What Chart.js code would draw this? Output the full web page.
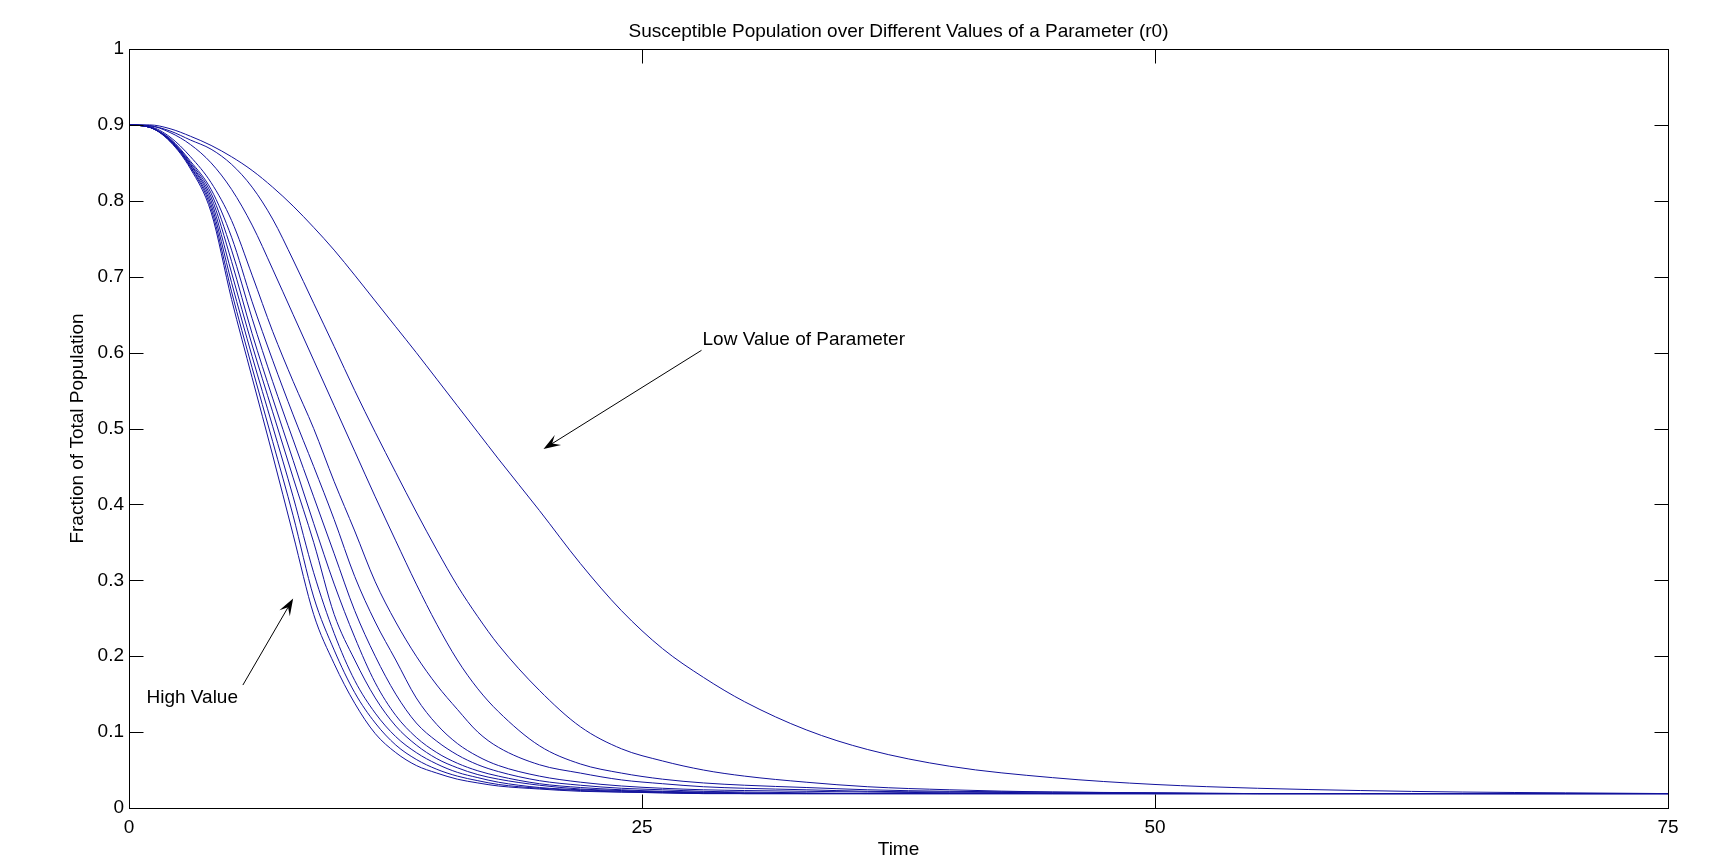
<!DOCTYPE html>
<html>
<head>
<meta charset="utf-8">
<title>Susceptible Population</title>
<script src="https://cdn.jsdelivr.net/npm/chart.js@4/dist/chart.umd.min.js"></script>
<style>
  html, body { margin: 0; padding: 0; background: #fff; }
</style>
</head>
<body>
<canvas id="sirChart" width="1709" height="858"></canvas>
<script>
// time grid (days) shared by all runs
var time = [0, 1, 2, 3, 4, 5, 6, 7, 8, 9, 10, 11, 12, 13, 14, 15, 16, 17, 18,
  20, 22, 24, 26, 28, 30, 33, 36, 40, 45, 50, 55, 60, 65, 70, 75];

// susceptible fraction, lowest parameter value first
var s1 = [.9, .9, .895, .885, .873, .858, .84, .818, .793, .765, .735, .702, .668, .634, .60, .565, .53, .495, .46,
  .392, .322, .26, .21, .172, .14, .103, .077, .055, .04, .031, .026, .023, .021, .02, .019];
var s2 = [.9, .899, .892, .88, .868, .848, .818, .776, .722, .665, .608, .55, .495, .442, .39, .34, .293, .252, .215,
  .155, .107, .078, .062, .05, .042, .034, .028, .024, .021, .02, .019, .019, .019, .019, .019];
var s3 = [.9, .899, .89, .874, .85, .815, .768, .71, .65, .59, .53, .47, .41, .352, .295, .242, .195, .157, .127,
  .082, .058, .046, .038, .033, .03, .027, .024, .022, .021, .02, .019, .019, .019, .019, .019];
var s4 = [.9, .898, .884, .858, .824, .774, .702, .628, .562, .50, .43, .365, .298, .245, .20, .162, .13, .10, .08,
  .057, .046, .037, .032, .028, .026, .024, .022, .021, .02, .019, .019, .019, .019, .019, .019];
var s5 = [.9, .897, .882, .852, .815, .752, .667, .59, .518, .45, .38, .305, .245, .195, .145, .11, .085, .068, .056,
  .042, .034, .029, .026, .024, .023, .022, .021, .02, .019, .019, .019, .019, .019, .019, .019];
var s6 = [.9, .897, .881, .85, .81, .735, .645, .562, .485, .41, .335, .26, .20, .15, .112, .088, .07, .057, .048,
  .036, .03, .026, .024, .022, .021, .02, .019, .019, .019, .019, .019, .019, .019, .019, .019];
var s7 = [.9, .897, .88, .848, .805, .72, .625, .54, .458, .375, .295, .225, .165, .122, .093, .073, .059, .049, .042,
  .032, .027, .024, .022, .021, .02, .019, .019, .019, .019, .019, .019, .019, .019, .019, .019];
var s8 = [.9, .897, .88, .847, .80, .705, .61, .522, .435, .35, .255, .195, .145, .108, .083, .065, .053, .044, .038,
  .03, .025, .023, .021, .02, .019, .019, .019, .019, .019, .019, .019, .019, .019, .019, .019];
var s9 = [.9, .897, .879, .845, .795, .692, .595, .503, .41, .31, .23, .168, .125, .094, .073, .058, .047, .04, .034,
  .027, .024, .022, .021, .02, .019, .019, .019, .019, .019, .019, .019, .019, .019, .019, .019];
var s10 = [.9, .897, .879, .844, .79, .68, .58, .483, .385, .278, .208, .152, .112, .083, .064, .051, .042, .036, .031,
  .026, .023, .021, .02, .019, .019, .019, .019, .019, .019, .019, .019, .019, .019, .019, .019];
var s11 = [.9, .897, .878, .842, .785, .67, .567, .465, .36, .255, .19, .138, .098, .073, .056, .046, .038, .033, .029,
  .025, .022, .021, .02, .019, .019, .019, .019, .019, .019, .019, .019, .019, .019, .019, .019];

var runs = [s1, s2, s3, s4, s5, s6, s7, s8, s9, s10, s11];

var xTicks = [0, 25, 50, 75];
var yTicks = [0, 0.1, 0.2, 0.3, 0.4, 0.5, 0.6, 0.7, 0.8, 0.9, 1];

// annotations: text anchor and arrow tail/tip in data units
var lowLabel = { text: 'Low Value of Parameter', x: 27.95, y: 0.617 };
var lowArrow = { x0: 27.9, y0: 0.603, x1: 20.2, y1: 0.473 };
var highLabel = { text: 'High Value', x: 0.85, y: 0.145 };
var highArrow = { x0: 5.55, y0: 0.162, x1: 8.0, y1: 0.276 };

var FONT = "'Liberation Sans', Arial, Helvetica, sans-serif";
var ctx = document.getElementById('sirChart').getContext('2d');

function toPoints(vals) {
  return time.map(function (t, i) { return { x: t, y: vals[i] }; });
}

function arrow(c, xs, ys, a) {
  var x0 = xs.getPixelForValue(a.x0), y0 = ys.getPixelForValue(a.y0);
  var x1 = xs.getPixelForValue(a.x1), y1 = ys.getPixelForValue(a.y1);
  var dx = x1 - x0, dy = y1 - y0, len = Math.sqrt(dx * dx + dy * dy);
  dx /= len; dy /= len;
  var nx = -dy, ny = dx, L = 17, W = 6;
  c.beginPath();
  c.moveTo(x0, y0);
  c.lineTo(x1 - dx * 9, y1 - dy * 9);
  c.stroke();
  c.beginPath();
  c.moveTo(x1, y1);
  c.lineTo(x1 - dx * L + nx * W, y1 - dy * L + ny * W);
  c.lineTo(x1 - dx * L * 0.6, y1 - dy * L * 0.6);
  c.lineTo(x1 - dx * L - nx * W, y1 - dy * L - ny * W);
  c.closePath();
  c.fill();
}

// MATLAB style box, inward ticks on all sides, and the two arrows
var matlabAxes = {
  id: 'matlabAxes',
  afterDraw: function (chart) {
    var c = chart.ctx, a = chart.chartArea;
    var xs = chart.scales.x, ys = chart.scales.y;
    var L = Math.round(a.left) + 0.5, R = Math.round(a.right) + 0.5;
    var T = Math.round(a.top) + 0.5, B = Math.round(a.bottom) + 0.5;
    c.save();
    c.strokeStyle = '#000';
    c.fillStyle = '#000';
    c.lineWidth = 1;
    c.strokeRect(L, T, R - L, B - T);
    c.beginPath();
    yTicks.forEach(function (v) {
      if (v <= 0 || v >= 1) return;
      var y = Math.round(ys.getPixelForValue(v)) + 0.5;
      c.moveTo(L, y); c.lineTo(L + 14, y);
      c.moveTo(R, y); c.lineTo(R - 14, y);
    });
    xTicks.forEach(function (v) {
      if (v <= 0 || v >= 75) return;
      var x = Math.round(xs.getPixelForValue(v)) + 0.5;
      c.moveTo(x, B); c.lineTo(x, B - 14);
      c.moveTo(x, T); c.lineTo(x, T + 14);
    });
    c.stroke();

    arrow(c, xs, ys, lowArrow);
    arrow(c, xs, ys, highArrow);

    c.font = '19px ' + FONT;
    c.textBaseline = 'middle';
    c.textAlign = 'left';
    c.fillText(lowLabel.text, xs.getPixelForValue(lowLabel.x), ys.getPixelForValue(lowLabel.y));
    c.fillText(highLabel.text, xs.getPixelForValue(highLabel.x), ys.getPixelForValue(highLabel.y));
    c.restore();
  }
};

new Chart(ctx, {
  type: 'line',
  data: {
    datasets: runs.map(function (r, i) {
      return {
        label: 'run ' + (i + 1),
        data: toPoints(r),
        borderColor: '#12129c',
        borderWidth: 1,
        pointRadius: 0,
        fill: false,
        cubicInterpolationMode: 'monotone'
      };
    })
  },
  options: {
    responsive: false,
    animation: false,
    layout: { padding: { left: 58, right: 41, top: 0, bottom: 0 } },
    plugins: {
      legend: { display: false },
      tooltip: { enabled: false },
      title: {
        display: true,
        fullSize: false,
        text: 'Susceptible Population over Different Values of a Parameter (r0)',
        color: '#000',
        font: { family: FONT, size: 19, weight: 'normal' },
        padding: { top: 20.2, bottom: 6 }
      }
    },
    scales: {
      x: {
        type: 'linear',
        min: 0,
        max: 75,
        afterBuildTicks: function (s) { s.ticks = xTicks.map(function (v) { return { value: v }; }); },
        ticks: { color: '#000', padding: 0, font: { family: FONT, size: 19 }, maxRotation: 0 },
        grid: { display: false },
        border: { display: false },
        title: { display: true, text: 'Time', color: '#000', font: { family: FONT, size: 19 }, padding: { top: 0, bottom: -3 } },
        afterFit: function (s) { s.height = 50; }
      },
      y: {
        min: 0,
        max: 1,
        afterBuildTicks: function (s) { s.ticks = yTicks.map(function (v) { return { value: v }; }); },
        ticks: {
          color: '#000',
          padding: -3,
          font: { family: FONT, size: 19 },
          callback: function (v) { return String(Number(v.toFixed(1))); }
        },
        grid: { display: false },
        border: { display: false },
        title: { display: true, text: 'Fraction of Total Population', color: '#000', font: { family: FONT, size: 19 }, padding: { top: 8 } },
        afterFit: function (s) { s.width = 71; }
      }
    }
  },
  plugins: [matlabAxes]
});
</script>
</body>
</html>
